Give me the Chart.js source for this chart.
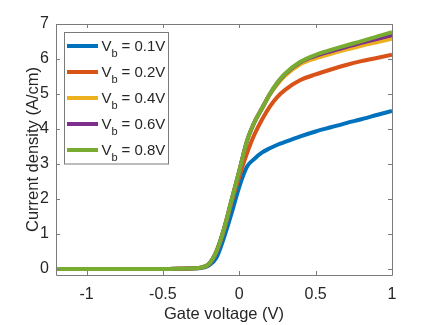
<!DOCTYPE html>
<html>
<head>
<meta charset="utf-8">
<script src="https://cdn.jsdelivr.net/npm/chart.js@4/dist/chart.umd.min.js"></script>
<style>
  html, body { margin: 0; padding: 0; background: #ffffff; }
  #wrap { width: 433px; height: 325px; }
</style>
</head>
<body>
<div id="wrap"><canvas id="c" width="433" height="325"></canvas></div>
<script>
// ---- data ----
const gateV = [-1.2, -1.0, -0.8, -0.6, -0.4, -0.3, -0.25, -0.2, -0.15, -0.1, -0.05, 0, 0.05, 0.1, 0.15, 0.2, 0.25, 0.3, 0.4, 0.5, 0.6, 0.7, 0.8, 0.9, 1.0];
const jVb01 = [0, 0, 0, 0, 0.01, 0.02, 0.03, 0.10, 0.32, 0.90, 1.60, 2.35, 2.92, 3.15, 3.33, 3.45, 3.55, 3.63, 3.79, 3.93, 4.05, 4.17, 4.28, 4.40, 4.52];
const jVb02 = [0, 0, 0, 0, 0.01, 0.02, 0.04, 0.13, 0.48, 1.12, 1.92, 2.65, 3.30, 3.85, 4.28, 4.64, 4.92, 5.12, 5.40, 5.56, 5.70, 5.83, 5.94, 6.03, 6.12];
const jVb04 = [0, 0, 0, 0, 0.01, 0.02, 0.04, 0.14, 0.50, 1.15, 1.98, 2.80, 3.65, 4.20, 4.60, 4.98, 5.28, 5.52, 5.85, 6.02, 6.15, 6.27, 6.38, 6.48, 6.58];
const jVb06 = [0, 0, 0, 0, 0.01, 0.02, 0.04, 0.14, 0.50, 1.15, 1.98, 2.80, 3.65, 4.20, 4.60, 5.00, 5.32, 5.57, 5.91, 6.09, 6.22, 6.34, 6.46, 6.57, 6.68];
const jVb08 = [0, 0, 0, 0, 0.01, 0.02, 0.04, 0.14, 0.50, 1.15, 1.98, 2.80, 3.65, 4.20, 4.60, 5.00, 5.33, 5.58, 5.92, 6.12, 6.26, 6.39, 6.51, 6.64, 6.77];
const biasLabels = ['0.1V', '0.2V', '0.4V', '0.6V', '0.8V'];
const seriesColors = ['#0072BD', '#D95319', '#EDB120', '#7E2F8E', '#77AC30'];
const xTicks = [-1, -0.5, 0, 0.5, 1];
const yTicks = [0, 1, 2, 3, 4, 5, 6, 7];

const series = [jVb01, jVb02, jVb04, jVb06, jVb08];
const FONT = '"Liberation Sans", Arial, Helvetica, sans-serif';
const TXT = '#262626';
const AXC = '#7a7a7a';

const datasets = series.map((ys, i) => ({
  label: 'V_b = ' + biasLabels[i],
  data: gateV.map((x, k) => ({ x: x, y: ys[k] })),
  borderColor: seriesColors[i],
  backgroundColor: seriesColors[i],
  borderWidth: 4,
  pointRadius: 0,
  fill: false,
  cubicInterpolationMode: 'monotone',
  order: series.length - i,
  clip: 0
}));

const boxPlugin = {
  id: 'matlabBox',
  afterDatasetsDraw(chart) {
    const { ctx, chartArea: a, scales } = chart;
    ctx.save();
    ctx.strokeStyle = AXC;
    ctx.lineWidth = 1;
    ctx.beginPath();
    ctx.rect(Math.round(a.left) + 0.5, Math.round(a.top) + 0.5, Math.round(a.right - a.left), Math.round(a.bottom - a.top));
    ctx.stroke();
    const tl = 4;
    ctx.beginPath();
    xTicks.forEach(v => {
      const px = Math.round(scales.x.getPixelForValue(v)) + 0.5;
      ctx.moveTo(px, a.bottom); ctx.lineTo(px, a.bottom - tl);
      ctx.moveTo(px, a.top); ctx.lineTo(px, a.top + tl);
    });
    yTicks.forEach(v => {
      const py = Math.round(scales.y.getPixelForValue(v)) + 0.5;
      ctx.moveTo(a.left, py); ctx.lineTo(a.left + tl, py);
      ctx.moveTo(a.right, py); ctx.lineTo(a.right - tl, py);
    });
    ctx.stroke();
    ctx.restore();
  },
  afterDraw(chart) {
    const ctx = chart.ctx;
    ctx.save();
    const bx = 64.5, by = 32.5, bw = 104, bh = 131.5;
    ctx.fillStyle = '#ffffff';
    ctx.fillRect(bx, by, bw, bh);
    ctx.strokeStyle = AXC;
    ctx.lineWidth = 1;
    ctx.strokeRect(bx, by, bw, bh);
    const rows = [46, 72, 98, 124, 150];
    rows.forEach((ry, i) => {
      ctx.strokeStyle = seriesColors[i];
      ctx.lineWidth = 4;
      ctx.beginPath();
      ctx.moveTo(67, ry); ctx.lineTo(98, ry);
      ctx.stroke();
      ctx.fillStyle = TXT;
      ctx.textBaseline = 'alphabetic';
      ctx.textAlign = 'left';
      ctx.font = '15px ' + FONT;
      ctx.fillText('V', 101.5, ry + 4.5);
      ctx.font = '11px ' + FONT;
      ctx.fillText('b', 111.5, ry + 10.5);
      ctx.font = '15px ' + FONT;
      ctx.fillText('= ' + biasLabels[i], 121.5, ry + 4.5);
    });
    ctx.restore();
  }
};

new Chart(document.getElementById('c'), {
  type: 'line',
  data: { datasets: datasets },
  options: {
    responsive: false,
    animation: false,
    layout: { padding: { top: 24, right: 41, left: 0, bottom: 0 } },
    plugins: { legend: { display: false }, tooltip: { enabled: false } },
    scales: {
      x: {
        type: 'linear',
        min: -1.2, max: 1,
        afterBuildTicks: s => { s.ticks = xTicks.map(v => ({ value: v })); },
        afterFit: s => { s.height = 50; },
        grid: { display: false, drawTicks: false },
        border: { display: false },
        ticks: { font: { family: FONT, size: 16 }, color: TXT, padding: 10, maxRotation: 0, autoSkip: false, callback: v => String(v) },
        title: { display: true, text: 'Gate voltage (V)', font: { family: FONT, size: 16.5 }, color: TXT, padding: { top: 0, bottom: 1 } }
      },
      y: {
        type: 'linear',
        min: -0.17, max: 7,
        afterBuildTicks: s => { s.ticks = yTicks.map(v => ({ value: v })); },
        afterFit: s => { s.width = 56; },
        grid: { display: false, drawTicks: false },
        border: { display: false },
        ticks: { font: { family: FONT, size: 16 }, color: TXT, padding: 7, autoSkip: false, callback: v => String(v) },
        title: { display: true, text: 'Current density (A/cm)', font: { family: FONT, size: 16.5 }, color: TXT, padding: { top: 24, bottom: 0 } }
      }
    }
  },
  plugins: [boxPlugin]
});
</script>
</body>
</html>
